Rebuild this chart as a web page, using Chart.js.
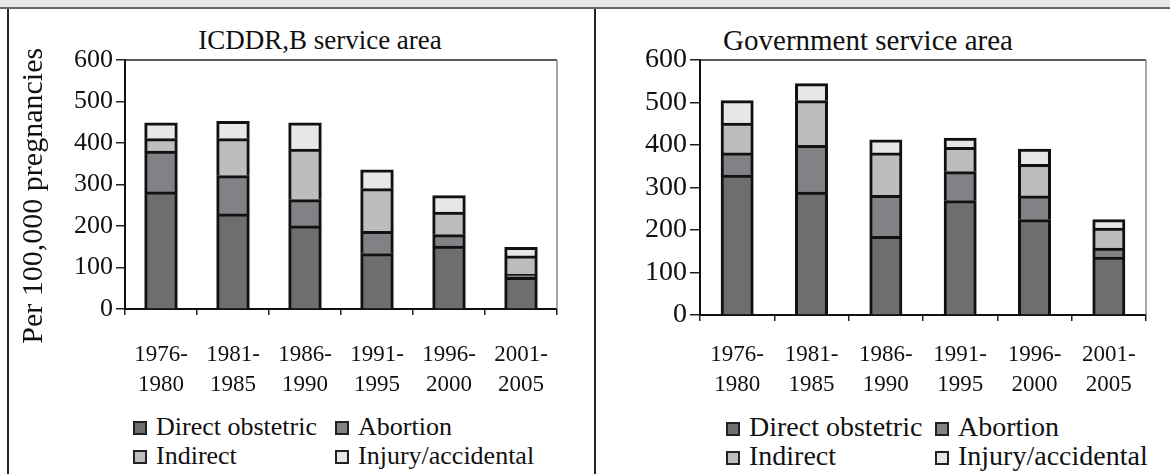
<!DOCTYPE html>
<html>
<head>
<meta charset="utf-8">
<script src="https://cdn.jsdelivr.net/npm/chart.js@4.4.0/dist/chart.umd.min.js"></script>
<style>
  body { margin: 0; width: 1170px; height: 474px; position: relative; overflow: hidden; background: #fff; font-family: "Liberation Serif", serif; color: #111; }
  #topbar { position: absolute; left: 0; top: 0; width: 1170px; height: 7px; background: #e6e7e8; border-bottom: 2px solid #666; }
  .vline { position: absolute; top: 9px; bottom: 0; width: 2px; background: #222; }
  .title { position: absolute; top: 24px; width: 400px; text-align: center; line-height: 32px; }
  .panel { position: absolute; top: 9px; height: 392px; }
  .legend { position: absolute; top: 0; left: 0; }
  .item { position: absolute; line-height: 30px; white-space: nowrap; }
  .box { display: inline-block; width: 10px; height: 10px; border: 2px solid #222; margin-right: 9px; vertical-align: baseline; }
</style>
</head>
<body>
<div id="topbar"></div>
<div class="vline" style="left:7px"></div>
<div class="vline" style="left:594px"></div>

<div class="title" style="left:120px; font-size:27px">ICDDR,B service area</div>
<div class="title" style="left:668px; font-size:29px">Government service area</div>

<div class="panel" style="left:8px; width:586px"><canvas id="chartLeft"></canvas></div>
<div class="panel" style="left:596px; width:574px"><canvas id="chartRight"></canvas></div>
<div class="legend" id="legendLeft"></div>
<div class="legend" id="legendRight"></div>

<script>
const periods = [['1976-', '1980'], ['1981-', '1985'], ['1986-', '1990'], ['1991-', '1995'], ['1996-', '2000'], ['2001-', '2005']];
const causes = ['Direct obstetric', 'Abortion', 'Indirect', 'Injury/accidental'];
const causeColors = ['#6d6e70', '#818285', '#bcbdbf', '#e6e7e8'];
const yTicks = [0, 100, 200, 300, 400, 500, 600];

// ICDDR,B service area, per 100,000 pregnancies
const icddrDirect = [282, 229, 200, 133, 151, 76];
const icddrAbortion = [98, 92, 63, 54, 28, 7];
const icddrIndirect = [30, 89, 122, 103, 54, 45];
const icddrInjury = [38, 42, 63, 45, 40, 20];

// Government service area
const govDirect = [329, 289, 185, 269, 224, 136];
const govAbortion = [52, 110, 96, 68, 56, 21];
const govIndirect = [70, 105, 100, 57, 74, 47];
const govInjury = [53, 40, 31, 22, 36, 20];

const serif = '"Liberation Serif", serif';

// top and right edges of the plot box
const frame = {
    id: 'frame',
    afterDraw(chart) {
        const a = chart.chartArea;
        const ctx = chart.ctx;
        ctx.save();
        ctx.lineWidth = 1.5;
        ctx.strokeStyle = '#222';
        ctx.beginPath();
        ctx.moveTo(a.left, a.top);
        ctx.lineTo(a.right, a.top);
        ctx.stroke();
        ctx.strokeStyle = '#888';
        ctx.beginPath();
        ctx.moveTo(a.right, a.top);
        ctx.lineTo(a.right, a.bottom);
        ctx.stroke();
        ctx.restore();
    }
};

function makeDatasets(series, barPct) {
    return series.map((d, i) => ({
        label: causes[i],
        data: d,
        backgroundColor: causeColors[i],
        borderColor: '#111',
        borderWidth: 3,
        inflateAmount: 0.5,
        barPercentage: barPct,
        categoryPercentage: 1
    }));
}

function makeChart(id, series, opt) {
    return new Chart(document.getElementById(id), {
        type: 'bar',
        data: {
            labels: periods,
            datasets: makeDatasets(series, opt.barPct)
        },
        options: {
            responsive: true,
            maintainAspectRatio: false,
            animation: false,
            layout: { padding: { top: 51, right: opt.padRight, bottom: 0, left: 0 } },
            plugins: { legend: { display: false }, tooltip: { enabled: false } },
            scales: {
                x: {
                    stacked: true,
                    grid: { drawOnChartArea: false, tickLength: 6, color: '#222', lineWidth: 1.5 },
                    border: { color: '#111', width: 2 },
                    ticks: { color: '#111', font: { family: serif, size: 23, lineHeight: 1.3 }, padding: opt.xPad, maxRotation: 0, autoSkip: false },
                    afterFit: (s) => { s.height = opt.xHeight; }
                },
                y: {
                    stacked: true,
                    min: 0,
                    max: 600,
                    afterBuildTicks: (s) => { s.ticks = yTicks.map(v => ({ value: v })); },
                    grid: { drawOnChartArea: false, tickLength: opt.yTickLen, color: '#222', lineWidth: 1.5 },
                    border: { color: '#111', width: 2 },
                    ticks: { color: '#111', font: { family: serif, size: opt.yFont }, padding: 3 },
                    title: opt.yTitle ? {
                        display: true,
                        // trailing spaces nudge the rotated label a bit lower, as in the original
                        text: 'Per 100,000 pregnancies\u00a0\u00a0\u00a0',
                        color: '#111',
                        font: { family: serif, size: 30 },
                        padding: { top: 8, bottom: 0 }
                    } : { display: false },
                    afterFit: (s) => { s.width = opt.yWidth; }
                }
            }
        },
        plugins: [frame]
    });
}

const left = makeChart('chartLeft', [icddrDirect, icddrAbortion, icddrIndirect, icddrInjury],
    { barPct: 0.45, padRight: 37, xPad: 25, xHeight: 92, yWidth: 117, yTickLen: 9, yFont: 26, yTitle: true });
const right = makeChart('chartRight', [govDirect, govAbortion, govIndirect, govInjury],
    { barPct: 0.43, padRight: 24, xPad: 19, xHeight: 86, yWidth: 104, yTickLen: 10, yFont: 28, yTitle: false });

// html legend, 2 x 2, built from the chart's datasets
function buildLegend(chart, elId, cols, size) {
    const el = document.getElementById(elId);
    const rows = [412, 441];
    chart.data.datasets.forEach((ds, i) => {
        const it = document.createElement('div');
        it.className = 'item';
        it.style.left = cols[i % 2] + 'px';
        it.style.top = rows[Math.floor(i / 2)] + 'px';
        it.style.fontSize = size + 'px';
        const b = document.createElement('span');
        b.className = 'box';
        b.style.background = ds.backgroundColor;
        it.appendChild(b);
        it.appendChild(document.createTextNode(ds.label));
        el.appendChild(it);
    });
}
buildLegend(left, 'legendLeft', [133, 335], 26);
buildLegend(right, 'legendRight', [726, 935], 28);
</script>
</body>
</html>
